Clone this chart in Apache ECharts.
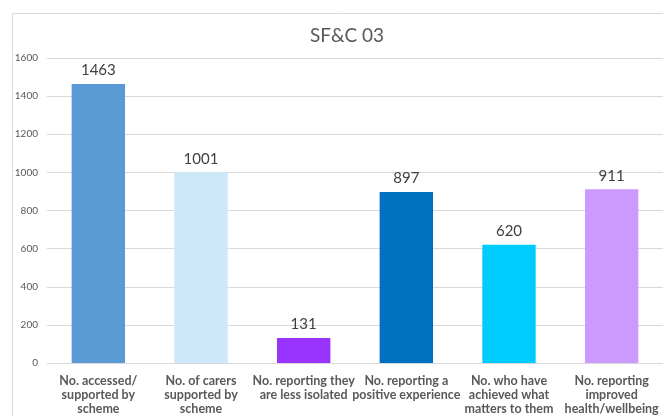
<!DOCTYPE html>
<html>
<head>
<meta charset="utf-8">
<script src="https://cdn.jsdelivr.net/npm/echarts@6/dist/echarts.min.js"></script>
<style>html,body{margin:0;padding:0;background:#fff}#c{width:663px;height:416px}</style>
</head>
<body>
<div id="c"></div>
<script>
var categories = [
  "No. accessed/\nsupported by\nscheme",
  "No. of carers\nsupported by\nscheme",
  "No. reporting they\nare less isolated",
  "No. reporting a\npositive experience",
  "No. who have\nachieved what\nmatters to them",
  "No. reporting\nimproved\nhealth/wellbeing"
];
var values = [1463, 1001, 131, 897, 620, 911];
var barColors = ["#5B9BD5", "#CCE8FA", "#9933FF", "#0070C0", "#00CCFF", "#CC99FF"];
var yTicks = [0, 200, 400, 600, 800, 1000, 1200, 1400, 1600];

var chart = echarts.init(document.getElementById('c'), null, {renderer: 'canvas'});
chart.setOption({
  animation: false,
  backgroundColor: '#fff',
  graphic: [{
    type: 'rect', left: 10, top: 11, z: -1,
    shape: {width: 680, height: 420},
    style: {fill: 'none', stroke: '#d9d9d9', lineWidth: 1}
  }],
  title: {
    text: 'SF&C 03', left: 342, top: 21, textAlign: 'center',
    textStyle: {fontFamily: 'Lato', fontSize: 19, fontWeight: 'normal', color: '#595959'}
  },
  grid: {left: 47, right: 0, top: 58, bottom: 49, containLabel: false},
  xAxis: {
    type: 'category', data: categories,
    axisLine: {lineStyle: {color: '#d9d9d9'}},
    axisTick: {show: false},
    axisLabel: {interval: 0, margin: 11, fontFamily: 'Lato', fontSize: 12.5, fontWeight: 'bold', color: '#595959', lineHeight: 14}
  },
  yAxis: {
    type: 'value', min: yTicks[0], max: yTicks[yTicks.length - 1], interval: 200,
    splitLine: {lineStyle: {color: '#d9d9d9'}},
    axisLine: {show: false}, axisTick: {show: false},
    axisLabel: {margin: 9, fontFamily: 'Lato', fontSize: 10, color: '#595959', formatter: function (v) { return String(v); }}
  },
  series: [{
    type: 'bar', barWidth: '52%',
    data: values.map(function (v, i) { return {value: v, itemStyle: {color: barColors[i]}}; }),
    label: {show: true, position: 'top', distance: 6, fontFamily: 'Lato', fontSize: 15, color: '#404040'}
  }]
});
</script>
</body>
</html>
